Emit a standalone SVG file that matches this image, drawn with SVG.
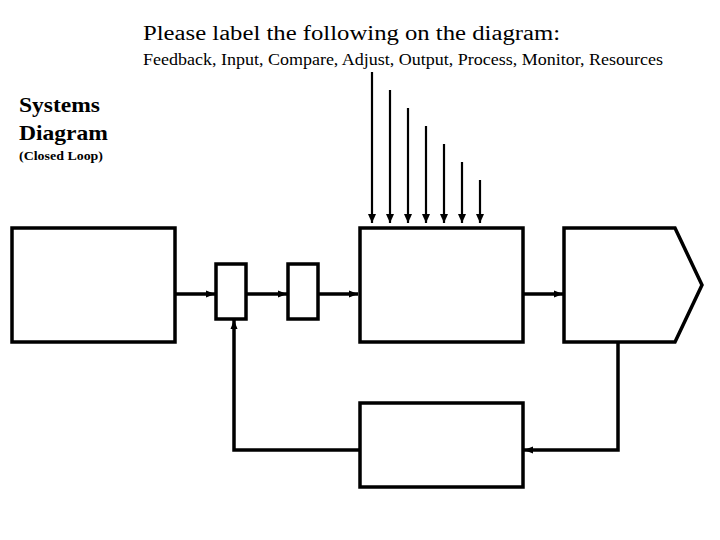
<svg xmlns="http://www.w3.org/2000/svg" width="720" height="540" viewBox="0 0 720 540">
<style>
.box{fill:#fff;stroke:#000;stroke-width:3.5}
.ln{fill:none;stroke:#000;stroke-width:3.5}
.vl{fill:none;stroke:#000;stroke-width:2.2}
.t{font-family:"Liberation Serif","Times New Roman",serif;fill:#000}
</style>
<defs>
<marker id="ah" markerWidth="9" markerHeight="9" refX="9" refY="4.5" orient="auto" markerUnits="userSpaceOnUse">
<path d="M0,1 L9,4.5 L0,8 z" fill="#000"/>
</marker>
<marker id="av" markerWidth="10" markerHeight="10" refX="9" refY="5" orient="auto" markerUnits="userSpaceOnUse">
<path d="M0,1 L9,5 L0,9 z" fill="#000"/>
</marker>
</defs>
<rect width="720" height="540" fill="#fff"/>
<text class="t" x="143" y="40" font-size="20" textLength="417" lengthAdjust="spacingAndGlyphs">Please label the following on the diagram:</text>
<text class="t" x="143" y="65" font-size="16" textLength="520" lengthAdjust="spacingAndGlyphs">Feedback, Input, Compare, Adjust, Output, Process, Monitor, Resources</text>
<text class="t" x="19" y="112" font-size="21" font-weight="bold" textLength="81" lengthAdjust="spacingAndGlyphs">Systems</text>
<text class="t" x="19" y="140" font-size="21" font-weight="bold" textLength="89" lengthAdjust="spacingAndGlyphs">Diagram</text>
<text class="t" x="19" y="160" font-size="13" font-weight="bold" textLength="84" lengthAdjust="spacingAndGlyphs">(Closed Loop)</text>
<g id="connectors">
<line class="ln" x1="175" y1="294" x2="215" y2="294" marker-end="url(#ah)"/>
<line class="ln" x1="246" y1="294" x2="287" y2="294" marker-end="url(#ah)"/>
<line class="ln" x1="318" y1="294" x2="358" y2="294" marker-end="url(#ah)"/>
<line class="ln" x1="523" y1="294" x2="563" y2="294" marker-end="url(#ah)"/>
<polyline class="ln" points="618,342 618,450 524,450" marker-end="url(#ah)"/>
<polyline class="ln" points="360,450 234,450 234,320" marker-end="url(#ah)"/>
<line class="vl" x1="372" y1="72" x2="372" y2="223" marker-end="url(#av)"/>
<line class="vl" x1="390" y1="90" x2="390" y2="223" marker-end="url(#av)"/>
<line class="vl" x1="408" y1="108" x2="408" y2="223" marker-end="url(#av)"/>
<line class="vl" x1="426" y1="126" x2="426" y2="223" marker-end="url(#av)"/>
<line class="vl" x1="444" y1="144" x2="444" y2="223" marker-end="url(#av)"/>
<line class="vl" x1="462" y1="162" x2="462" y2="223" marker-end="url(#av)"/>
<line class="vl" x1="480" y1="180" x2="480" y2="223" marker-end="url(#av)"/>
</g>
<g id="input"><rect class="box" x="12" y="228" width="163" height="114"/></g>
<g id="compare"><rect class="box" x="216" y="264" width="30" height="55"/></g>
<g id="adjust"><rect class="box" x="288" y="264" width="30" height="55"/></g>
<g id="process"><rect class="box" x="360" y="228" width="163" height="114"/></g>
<g id="output"><polygon class="box" points="564,228 675,228 702,285 675,342 564,342"/></g>
<g id="monitor"><rect class="box" x="360" y="403" width="163" height="84"/></g>
</svg>
